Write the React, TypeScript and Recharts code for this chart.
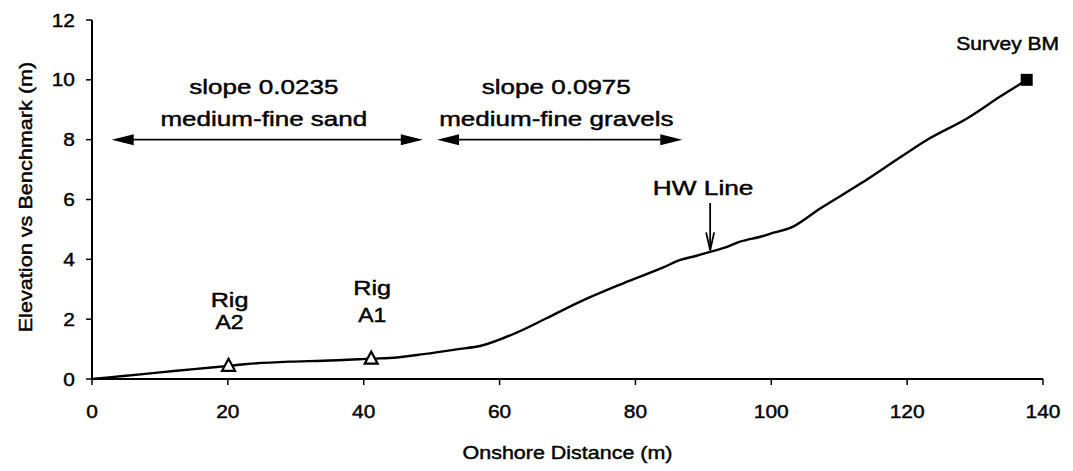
import { LineChart, Line, XAxis, YAxis, ReferenceDot, ReferenceLine } from "recharts";

// profile survey, onshore distance (m) vs elevation (m)
const distance = [0, 5, 10, 15, 20.1, 22.8, 29.1, 34, 41.1, 44.9, 48.8, 53.7, 57.4, 62.5, 66.9, 71.8, 78.2, 84.1, 86.6, 89, 91, 93, 95.4, 98.8, 100.3, 102.7, 107.2, 113.2, 119.1, 122.9, 128.8, 133.7, 137.6];
const elevation = [0, 0.11, 0.22, 0.33, 0.44, 0.5, 0.58, 0.61, 0.68, 0.72, 0.83, 0.99, 1.12, 1.55, 2.03, 2.58, 3.2, 3.73, 3.98, 4.12, 4.25, 4.38, 4.59, 4.78, 4.89, 5.04, 5.7, 6.54, 7.43, 7.99, 8.71, 9.44, 10.0];

const xTicks = [0, 20, 40, 60, 80, 100, 120, 140];
const yTicks = [0, 2, 4, 6, 8, 10, 12];

// rig positions
const rigNames = ["A2", "A1"];
const rigX = [20.1, 41.1];
const rigY = [0.44, 0.68];

// survey benchmark
const bmX = 137.6;
const bmY = 10.0;

// slope zones (arrow spans at elevation 8)
const zoneY = 8;
const zoneFrom = [2.9, 50.8];
const zoneTo = [48.7, 86.9];
const zoneSlope = ["slope 0.0235", "slope 0.0975"];
const zoneSoil = ["medium-fine sand", "medium-fine gravels"];

// high water line
const hwX = 91;
const hwTop = 5.88;
const hwBottom = 4.3;

const data = distance.map((d, i) => ({ d, e: elevation[i] }));

const FONT = "'Liberation Sans', Arial, Helvetica, sans-serif";

const StretchText = ({ x, y, text, size, sx = 1.2, anchor = "middle", rotate = 0 }: any) => (
  <text
    transform={`translate(${x},${y}) rotate(${rotate}) scale(${sx},1)`}
    textAnchor={anchor}
    dominantBaseline="central"
    fontSize={size}
    fontFamily={FONT}
    fill="#000"
    stroke="#000"
    strokeWidth={0.45}
  >
    {text}
  </text>
);

const XTick = (p: any) => <StretchText x={p.x} y={p.y + 26} text={String(p.payload.value)} size={19} sx={1.1} />;
const YTick = (p: any) => <StretchText x={p.x - 11} y={p.y} text={String(p.payload.value)} size={19} sx={1.1} anchor="end" />;

const DoubleArrow = (p: any) => {
  const { x1, y1, x2 } = p;
  const L = 22;
  const w = 5.5;
  return (
    <g>
      <line x1={x1 + 10} y1={y1} x2={x2 - 10} y2={y1} stroke="#000" strokeWidth={1.8} />
      <polygon points={`${x1},${y1} ${x1 + L},${y1 - w} ${x1 + L},${y1 + w}`} fill="#000" />
      <polygon points={`${x2},${y1} ${x2 - L},${y1 - w} ${x2 - L},${y1 + w}`} fill="#000" />
    </g>
  );
};

const DownArrow = (p: any) => {
  const { x1, y1, y2 } = p;
  const top = Math.min(y1, y2);
  const bot = Math.max(y1, y2);
  return (
    <g stroke="#000" strokeWidth={1.8} fill="none">
      <line x1={x1} y1={top} x2={x1} y2={bot} />
      <polyline points={`${x1 - 4},${bot - 18} ${x1},${bot} ${x1 + 4},${bot - 18}`} />
    </g>
  );
};

const Triangle = (p: any) => (
  <polygon
    points={`${p.cx},${p.cy - 7} ${p.cx - 6.5},${p.cy + 5} ${p.cx + 6.5},${p.cy + 5}`}
    fill="#fff"
    stroke="#000"
    strokeWidth={2.2}
  />
);

const Square = (p: any) => <rect x={p.cx - 6} y={p.cy - 6} width={12} height={12} fill="#000" />;

export default function App() {
  return (
    <LineChart width={1065} height={463} data={data} margin={{ top: 12, right: 30, bottom: 12, left: 24 }}>
      <XAxis
        dataKey="d"
        type="number"
        domain={[0, 140]}
        ticks={xTicks}
        interval={0}
        tickSize={6}
        tickMargin={0}
        height={80}
        axisLine={{ stroke: "#000", strokeWidth: 2 }}
        tickLine={{ stroke: "#000", strokeWidth: 1.5 }}
        tick={XTick}
        label={{
          content: (lp: any) => {
            const vb = lp.viewBox || { x: 84, y: 371, width: 951 };
            return <StretchText x={vb.x + vb.width / 2} y={vb.y + 73} text="Onshore Distance (m)" size={19} sx={1.13} />;
          },
        }}
      />
      <YAxis
        type="number"
        domain={[0, 12]}
        ticks={yTicks}
        interval={0}
        width={60}
        tickSize={6}
        tickMargin={0}
        axisLine={{ stroke: "#000", strokeWidth: 2 }}
        tickLine={{ stroke: "#000", strokeWidth: 1.5 }}
        tick={YTick}
        label={{
          content: (lp: any) => {
            const vb = lp.viewBox || { x: 24, y: 12, height: 359 };
            return (
              <StretchText
                x={vb.x - 7}
                y={vb.y + vb.height / 2 - 2.5}
                text="Elevation vs Benchmark (m)"
                size={19}
                sx={1.14}
                rotate={-90}
              />
            );
          },
        }}
      />
      <Line
        dataKey="e"
        type="monotone"
        stroke="#000"
        strokeWidth={2.4}
        dot={false}
        activeDot={false}
        isAnimationActive={false}
      />

      {zoneFrom.map((f, i) => (
        <ReferenceLine
          key={`zone-${i}`}
          segment={[
            { x: f, y: zoneY },
            { x: zoneTo[i], y: zoneY },
          ]}
          ifOverflow="visible"
          shape={DoubleArrow}
        />
      ))}
      {zoneFrom.map((f, i) => (
        <ReferenceDot
          key={`zone-text-${i}`}
          x={(f + zoneTo[i]) / 2 - 0.5}
          y={zoneY}
          r={0}
          ifOverflow="visible"
          shape={(p: any) => (
            <g>
              <StretchText x={p.cx} y={p.cy - 53} text={zoneSlope[i]} size={21} sx={1.24} />
              <StretchText x={p.cx} y={p.cy - 21} text={zoneSoil[i]} size={21} sx={1.24} />
            </g>
          )}
        />
      ))}

      <ReferenceLine
        segment={[
          { x: hwX, y: hwTop },
          { x: hwX, y: hwBottom },
        ]}
        ifOverflow="visible"
        shape={DownArrow}
      />
      <ReferenceDot
        x={hwX}
        y={hwTop}
        r={0}
        ifOverflow="visible"
        shape={(p: any) => <StretchText x={p.cx - 7} y={p.cy - 16} text="HW Line" size={21} sx={1.25} />}
      />

      {rigX.map((x, i) => (
        <ReferenceDot
          key={`rig-${i}`}
          x={x}
          y={rigY[i]}
          r={0}
          ifOverflow="visible"
          shape={(p: any) => (
            <g>
              <Triangle cx={p.cx} cy={p.cy} />
              <StretchText x={p.cx + 1} y={p.cy - (i === 0 ? 66 : 71)} text="Rig" size={21} sx={1.2} />
              <StretchText x={p.cx + 1} y={p.cy - 44} text={rigNames[i]} size={20} sx={1.15} />
            </g>
          )}
        />
      ))}

      <ReferenceDot
        x={bmX}
        y={bmY}
        r={0}
        ifOverflow="visible"
        shape={(p: any) => (
          <g>
            <Square cx={p.cx} cy={p.cy} />
            <StretchText x={p.cx - 19} y={p.cy - 36} text="Survey BM" size={18} sx={1.17} />
          </g>
        )}
      />
    </LineChart>
  );
}
